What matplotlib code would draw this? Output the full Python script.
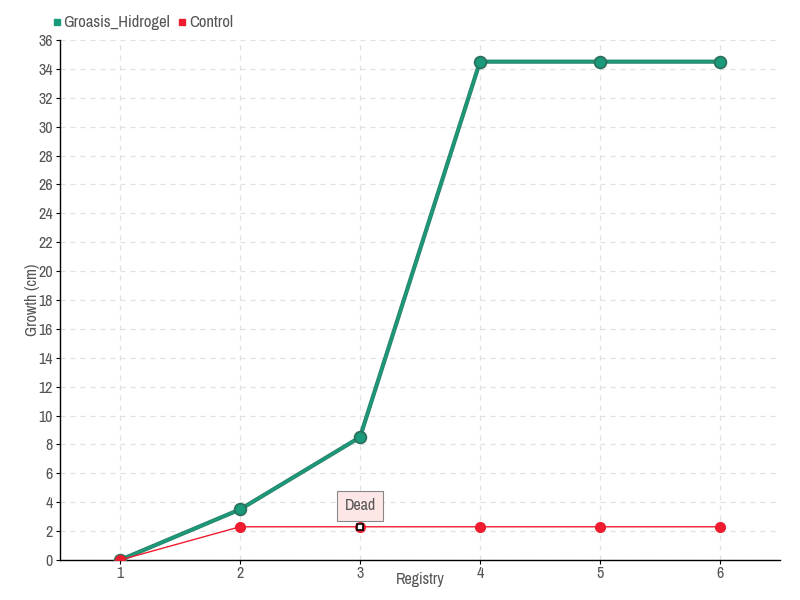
import numpy as np
import matplotlib
matplotlib.use("Agg")
import matplotlib.pyplot as plt
from matplotlib.lines import Line2D
from matplotlib import font_manager

names = sorted({f.name for f in font_manager.fontManager.ttflist})
narrow = [n for n in names if 'Narrow' in n or 'Condensed' in n]

plt.rcParams['font.family'] = narrow[:1] + ['DejaVu Sans']
plt.rcParams['font.stretch'] = 'condensed'

registry = [1, 2, 3, 4, 5, 6]
groasis = [0, 3.5, 8.5, 34.5, 34.5, 34.5]
control = [0, 2.3, 2.3, 2.3, 2.3, 2.3]
dead_point = 3
dead_label = "Dead"

green = "#1a9a7a"
red = "#ee1c2e"
txt = "#555555"

dpi = 100
fig = plt.figure(figsize=(800 / dpi, 600 / dpi), dpi=dpi)
ax = fig.add_axes([60 / 800, 40 / 600, 720 / 800, 520 / 600])

ax.plot(registry, groasis, color="#2a7f66", lw=3.0, zorder=3)
ax.plot(registry, groasis, color=green, lw=1.8, zorder=3,
        marker='o', markersize=8.5, markerfacecolor=green,
        markeredgecolor="#2a6e5a", markeredgewidth=1.2)
ax.plot(registry, control, color=red, lw=1, zorder=4,
        marker='o', markersize=7, markerfacecolor=red,
        markeredgecolor=red)

# marcador de la planta muerta
i = registry.index(dead_point)
ax.plot([dead_point], [control[i]], marker='s', markersize=4.5,
        markerfacecolor='white', markeredgecolor='black',
        markeredgewidth=1.2, zorder=6)
ax.annotate(dead_label, xy=(dead_point, control[i]),
            xytext=(0, 15), textcoords='offset points',
            ha='center', va='center', fontsize=11.5, color=txt, zorder=7,
            bbox=dict(boxstyle='square,pad=0.45', fc='#fde6e6', ec='#888888', lw=0.8),
            arrowprops=dict(arrowstyle='-', color='#888888', lw=0.8))

ax.set_xlim(0.5, 6.5)
ax.set_ylim(0, 36)
ax.set_xticks(registry)
ax.set_yticks(np.arange(0, 37, 2))
ax.grid(True, color='#e0e0e0', linestyle=(0, (4, 4)), lw=0.9)
ax.set_axisbelow(True)
for s in ['top', 'right']:
    ax.spines[s].set_visible(False)
for s in ['left', 'bottom']:
    ax.spines[s].set_color('black')
    ax.spines[s].set_linewidth(1)
ax.tick_params(axis='y', length=3, pad=2, colors='black', labelcolor=txt, labelsize=11.5)
ax.tick_params(axis='x', length=3, pad=1, colors='black', labelcolor=txt, labelsize=11.5)

ax.set_xlabel('Registry', color=txt, fontsize=11.5)
ax.set_ylabel('Growth (cm)', color=txt, fontsize=11.5)
ax.xaxis.set_label_coords(0.5, -0.024)
ax.yaxis.set_label_coords(-0.028, 0.5)

handles = [Line2D([], [], marker='s', color='none', markerfacecolor=green,
                  markeredgecolor=green, markersize=5),
           Line2D([], [], marker='s', color='none', markerfacecolor=red,
                  markeredgecolor=red, markersize=5)]
fig.legend(handles, ['Groasis_Hidrogel', 'Control'], loc='upper left',
           bbox_to_anchor=(44 / 800, 1 - 7 / 600), ncol=2, frameon=False,
           fontsize=12, labelcolor=txt, handlelength=0.5, handletextpad=0.15,
           columnspacing=0.5, borderpad=0)

fig.savefig('out.png', dpi=dpi)
